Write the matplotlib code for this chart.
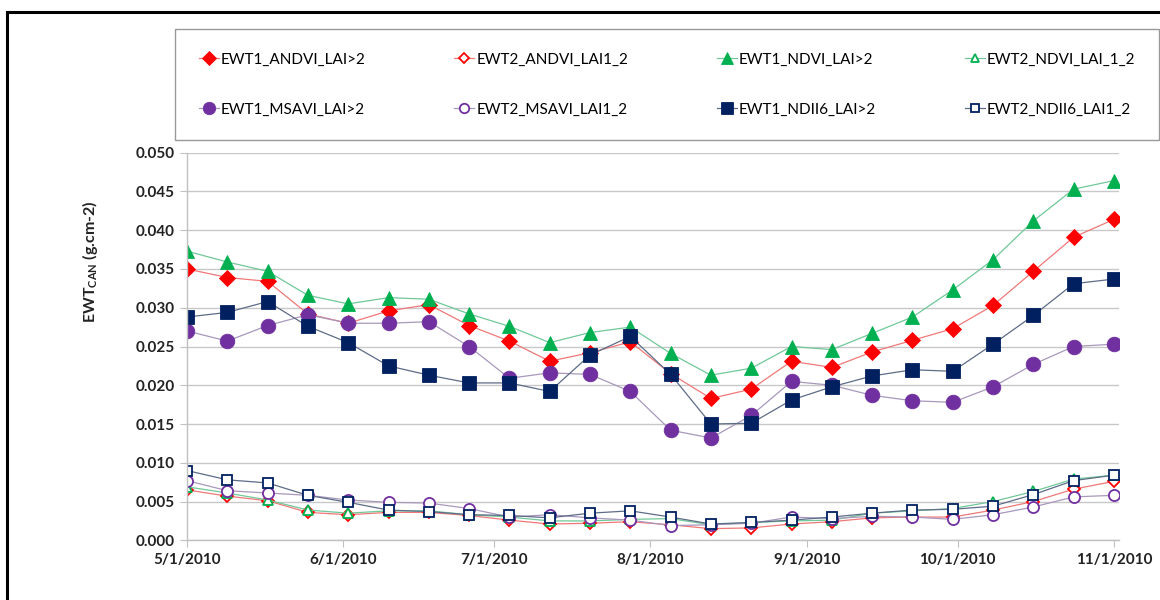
#!/usr/bin/env python3
"""
    EWT canopy time series (8-day composites), May - Nov 2010
"""

import datetime as dt
import numpy as np
import matplotlib
matplotlib.use('Agg')
from matplotlib import pyplot as plt
import matplotlib.dates as mdates
from matplotlib.patches import Rectangle

plt.rcParams['font.family'] = ['Lato', 'DejaVu Sans']

# 8-day composite dates
dates = ['2010-05-01', '2010-05-09', '2010-05-17', '2010-05-25', '2010-06-02',
         '2010-06-10', '2010-06-18', '2010-06-26', '2010-07-04', '2010-07-12',
         '2010-07-20', '2010-07-28', '2010-08-05', '2010-08-13', '2010-08-21',
         '2010-08-29', '2010-09-06', '2010-09-14', '2010-09-22', '2010-09-30',
         '2010-10-08', '2010-10-16', '2010-10-24', '2010-11-01']

ewt1_andvi = [0.0350, 0.0339, 0.0334, 0.0292, 0.0280, 0.0296, 0.0304, 0.0277,
              0.0257, 0.0231, 0.0242, 0.0256, 0.0215, 0.0183, 0.0195, 0.0231,
              0.0223, 0.0243, 0.0258, 0.0273, 0.0303, 0.0347, 0.0391, 0.0414]
ewt2_andvi = [0.0065, 0.0057, 0.0051, 0.0036, 0.0033, 0.0036, 0.0036, 0.0032,
              0.0026, 0.0021, 0.0022, 0.0024, 0.0020, 0.0015, 0.0016, 0.0021,
              0.0024, 0.0029, 0.0030, 0.0030, 0.0039, 0.0050, 0.0066, 0.0076]
ewt1_ndvi = [0.0373, 0.0359, 0.0347, 0.0316, 0.0305, 0.0313, 0.0311, 0.0292,
             0.0276, 0.0255, 0.0268, 0.0275, 0.0241, 0.0213, 0.0222, 0.0250,
             0.0246, 0.0267, 0.0288, 0.0323, 0.0362, 0.0412, 0.0453, 0.0464]
ewt2_ndvi = [0.0069, 0.0061, 0.0052, 0.0039, 0.0035, 0.0038, 0.0038, 0.0033,
             0.0030, 0.0025, 0.0025, 0.0027, 0.0028, 0.0020, 0.0023, 0.0025,
             0.0026, 0.0035, 0.0038, 0.0041, 0.0050, 0.0063, 0.0079, 0.0084]
ewt1_msavi = [0.0270, 0.0257, 0.0277, 0.0291, 0.0280, 0.0280, 0.0282, 0.0250,
              0.0209, 0.0216, 0.0214, 0.0192, 0.0142, 0.0132, 0.0161, 0.0205,
              0.0200, 0.0187, 0.0180, 0.0178, 0.0198, 0.0227, 0.0250, 0.0253]
ewt2_msavi = [0.0077, 0.0064, 0.0061, 0.0058, 0.0052, 0.0049, 0.0048, 0.0041,
              0.0030, 0.0033, 0.0029, 0.0026, 0.0019, 0.0020, 0.0022, 0.0030,
              0.0028, 0.0031, 0.0030, 0.0027, 0.0033, 0.0043, 0.0056, 0.0058]
ewt1_ndii6 = [0.0288, 0.0294, 0.0308, 0.0276, 0.0255, 0.0225, 0.0213, 0.0203,
              0.0203, 0.0192, 0.0239, 0.0263, 0.0214, 0.0150, 0.0151, 0.0181,
              0.0198, 0.0212, 0.0220, 0.0218, 0.0253, 0.0290, 0.0331, 0.0337]
ewt2_ndii6 = [0.0090, 0.0078, 0.0074, 0.0058, 0.0049, 0.0039, 0.0037, 0.0033,
              0.0032, 0.0029, 0.0035, 0.0038, 0.0030, 0.0021, 0.0023, 0.0026,
              0.0030, 0.0035, 0.0039, 0.0040, 0.0044, 0.0059, 0.0077, 0.0084]

labels = ['EWT1_ANDVI_LAI>2', 'EWT2_ANDVI_LAI1_2', 'EWT1_NDVI_LAI>2', 'EWT2_NDVI_LAI_1_2',
          'EWT1_MSAVI_LAI>2', 'EWT2_MSAVI_LAI1_2', 'EWT1_NDII6_LAI>2', 'EWT2_NDII6_LAI1_2']
series = [ewt1_andvi, ewt2_andvi, ewt1_ndvi, ewt2_ndvi,
          ewt1_msavi, ewt2_msavi, ewt1_ndii6, ewt2_ndii6]

# (marker colour, line colour, marker, size, filled)
styles = [('#FF0000', '#F07878', 'D', 8, True),
          ('#FF0000', '#F07878', 'D', 6.5, False),
          ('#00B050', '#70C898', '^', 10, True),
          ('#00B050', '#70C898', '^', 7.5, False),
          ('#7030A0', '#A898BC', 'o', 10.5, True),
          ('#7030A0', '#A898BC', 'o', 8, False),
          ('#002060', '#5E6C88', 's', 10, True),
          ('#002060', '#5E6C88', 's', 7.5, False)]

x = [dt.datetime.strptime(d, '%Y-%m-%d') for d in dates]

W, H = 1160, 600
fig = plt.figure(figsize=(W / 100, H / 100), dpi=100)
ax = fig.add_axes([187 / W, 1 - 540.3 / H, (1119 - 187) / W, (540.3 - 152.7) / H])

handles = []
for vals, lab, (mc, lc, mk, ms, filled) in zip(series, labels, styles):
    h, = ax.plot(x, vals, color=lc, lw=0.9, marker=mk, markersize=ms,
                 markerfacecolor=mc if filled else 'white',
                 markeredgecolor=mc, markeredgewidth=0.6 if filled else 1.3,
                 label=lab)
    handles.append(h)

ax.set_xlim(dt.datetime(2010, 5, 1), dt.datetime(2010, 11, 2))
ax.set_ylim(0, 0.05)
ax.set_yticks(np.arange(0, 0.0501, 0.005))
ax.yaxis.set_major_formatter(plt.FuncFormatter(lambda v, p: f'{v:.3f}'))
ax.xaxis.set_major_locator(mdates.MonthLocator())
ax.xaxis.set_major_formatter(plt.FuncFormatter(
    lambda v, p: (lambda d: f'{d.month}/{d.day}/{d.year}')(mdates.num2date(v))))

ax.grid(axis='y', color='#C8C8C8', lw=1.0)
ax.set_axisbelow(True)
for s in ['top', 'right']:
    ax.spines[s].set_visible(False)
for s in ['left', 'bottom']:
    ax.spines[s].set_color('#C0C0C0')
    ax.spines[s].set_linewidth(1.0)
ax.tick_params(axis='both', length=5, color='#C0C0C0', labelsize=11, pad=4)
for t in ax.get_xticklabels() + ax.get_yticklabels():
    t.set_fontweight('bold')
    t.set_color('#222222')

ax.set_ylabel('EWT$_{\\mathregular{CAN}}$ (g.cm-2)', fontsize=11.5, fontweight='bold',
              color='#222222')
ax.yaxis.set_label_coords(-0.093, 0.718)

# legend: 2 rows x 4 columns, matplotlib fills column-wise
order = [0, 4, 1, 5, 2, 6, 3, 7]
leg = fig.legend([handles[i] for i in order], [labels[i] for i in order], ncol=4,
                 loc='upper left',
                 bbox_to_anchor=(175 / W, 1 - 35 / H, (1159 - 175) / W, 0.01),
                 mode='expand', fontsize=11, frameon=True, fancybox=False,
                 edgecolor='#808080', labelspacing=2.35, borderpad=1.55,
                 handlelength=1.3, handletextpad=0.15, borderaxespad=0,
                 markerscale=0.85)
leg.get_frame().set_linewidth(1.0)

# outer chart border (cut off on right and bottom)
fig.patches.append(Rectangle((7 / W, -0.1), 1.2, 1 - 12 / H + 0.1,
                             transform=fig.transFigure, fill=False,
                             edgecolor='black', lw=2.2))

fig.savefig('out.png', dpi=100)
